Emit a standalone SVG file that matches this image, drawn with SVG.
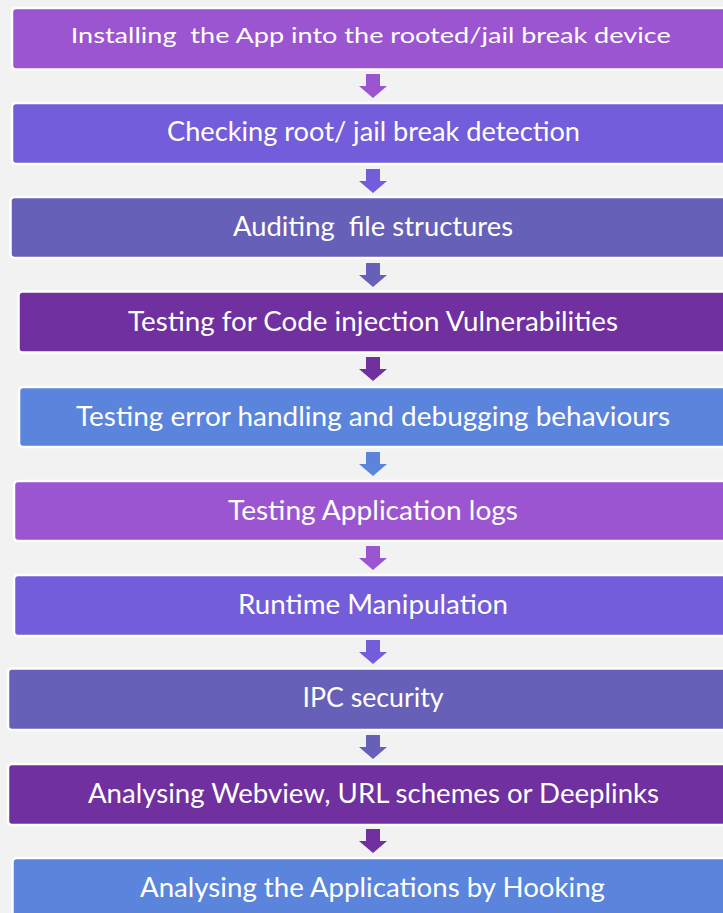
<svg xmlns="http://www.w3.org/2000/svg" width="723" height="913" viewBox="0 0 723 913">
  <defs>
    <style>
      .bg { fill: #F2F2F2; }
      .box { stroke: #FFFFFF; stroke-width: 2.5; }
      .lbl { font-family: Lato, "Open Sans", "Liberation Sans", sans-serif; font-size: 26px; fill: #FFFFFF; text-anchor: middle; }
      .c1 { fill: #9B55D1; }
      .c2 { fill: #735DDA; }
      .c3 { fill: #6660B8; }
      .c4 { fill: #7030A0; }
      .c5 { fill: #5B84DC; }
    </style>
    <!-- down arrow: shaft + head, 24 tall, tip at y=24 -->
    <path id="down" d="M-7,0 H7 V12 H14 L0,24 L-14,12 H-7 Z"/>
  </defs>

  <rect class="bg" x="0" y="0" width="723" height="913"/>

  <g id="connectors">
    <use href="#down" class="c1" x="373" y="74"/>
    <use href="#down" class="c2" x="373" y="169"/>
    <use href="#down" class="c3" x="373" y="263"/>
    <use href="#down" class="c4" x="373" y="357"/>
    <use href="#down" class="c5" x="373" y="452"/>
    <use href="#down" class="c1" x="373" y="546"/>
    <use href="#down" class="c2" x="373" y="640"/>
    <use href="#down" class="c3" x="373" y="735"/>
    <use href="#down" class="c4" x="373" y="829"/>
  </g>

  <g id="step1">
    <rect class="box c1" x="12" y="8" width="740" height="61.5" rx="4"/>
    <text class="lbl" x="370.7" y="43.3" style="font-size:22px" xml:space="preserve" textLength="600" lengthAdjust="spacingAndGlyphs">Installing  the App into the rooted/jail break device</text>
  </g>
  <g id="step2">
    <rect class="box c2" x="12" y="103" width="740" height="61" rx="4"/>
    <text class="lbl" x="373.5" y="141.3" textLength="413" lengthAdjust="spacingAndGlyphs">Checking root/ jail break detection</text>
  </g>
  <g id="step3">
    <rect class="box c3" x="10.5" y="197" width="740" height="61" rx="4"/>
    <text class="lbl" x="373" y="236.3" xml:space="preserve" textLength="280" lengthAdjust="spacingAndGlyphs">Auditing  file structures</text>
  </g>
  <g id="step4">
    <rect class="box c4" x="18.5" y="291.5" width="740" height="61" rx="4"/>
    <text class="lbl" x="373" y="330.8" textLength="490" lengthAdjust="spacingAndGlyphs">Testing for Code injection Vulnerabilities</text>
  </g>
  <g id="step5">
    <rect class="box c5" x="19" y="387" width="740" height="60" rx="4"/>
    <text class="lbl" x="373" y="425.8" textLength="594" lengthAdjust="spacingAndGlyphs">Testing error handling and debugging behaviours</text>
  </g>
  <g id="step6">
    <rect class="box c1" x="14" y="481" width="740" height="60" rx="4"/>
    <text class="lbl" x="373" y="519.8" textLength="290" lengthAdjust="spacingAndGlyphs">Testing Application logs</text>
  </g>
  <g id="step7">
    <rect class="box c2" x="14" y="575" width="740" height="61" rx="4"/>
    <text class="lbl" x="373" y="614.3" textLength="270" lengthAdjust="spacingAndGlyphs">Runtime Manipulation</text>
  </g>
  <g id="step8">
    <rect class="box c3" x="8" y="668.5" width="740" height="61.5" rx="4"/>
    <text class="lbl" x="373" y="706.7" textLength="141" lengthAdjust="spacingAndGlyphs">IPC security</text>
  </g>
  <g id="step9">
    <rect class="box c4" x="8" y="764" width="740" height="61" rx="4"/>
    <text class="lbl" x="373.5" y="803" textLength="571" lengthAdjust="spacingAndGlyphs">Analysing Webview, URL schemes or Deeplinks</text>
  </g>
  <g id="step10">
    <rect class="box c5" x="12.5" y="858" width="740" height="62" rx="4"/>
    <text class="lbl" x="372.5" y="897" textLength="465" lengthAdjust="spacingAndGlyphs">Analysing the Applications by Hooking</text>
  </g>
</svg>
